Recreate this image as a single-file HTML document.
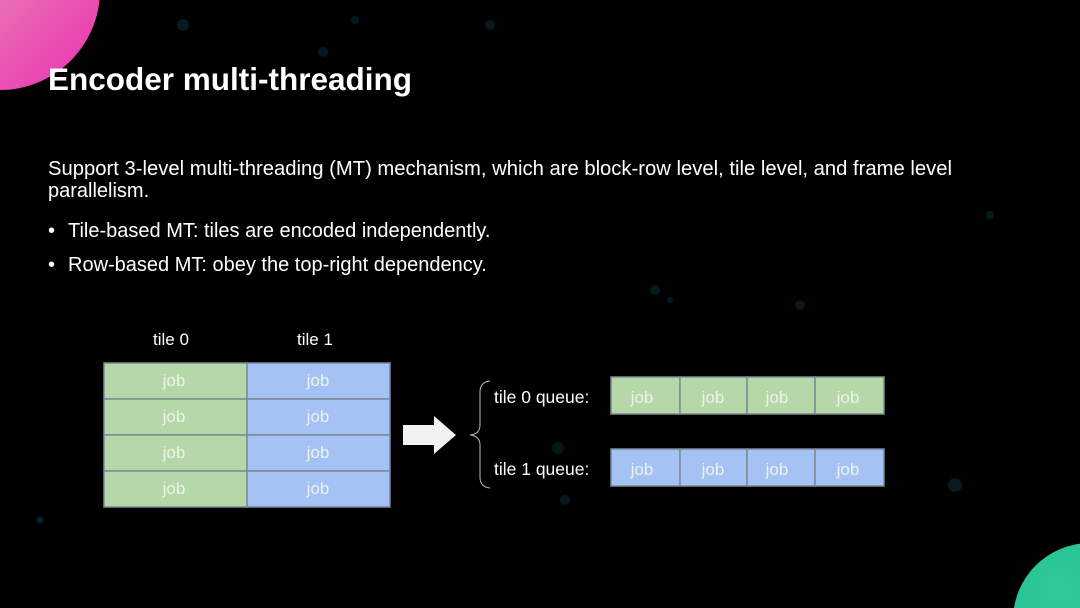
<!DOCTYPE html>
<html><head><meta charset="utf-8"><style>
html,body{margin:0;padding:0;background:#000;width:1080px;height:608px;overflow:hidden;}
svg{display:block;}
text{font-family:"Liberation Sans",Arial,sans-serif;}
</style></head><body>
<svg width="1080" height="608" viewBox="0 0 1080 608" xmlns="http://www.w3.org/2000/svg">
<defs>
<linearGradient id="pk" x1="0" y1="0" x2="1" y2="1">
<stop offset="0" stop-color="#e7b3b8"/><stop offset="1" stop-color="#ea2fb0"/>
</linearGradient>
<radialGradient id="gr" cx="0.3" cy="0.3" r="1">
<stop offset="0" stop-color="#2fc99a"/><stop offset="1" stop-color="#18b58c"/>
</radialGradient>
</defs>
<rect width="1080" height="608" fill="#000"/>
<g fill="#0d2a33" opacity="0.6">
<circle cx="183" cy="25" r="6"/><circle cx="355" cy="20" r="4"/><circle cx="323" cy="52" r="5"/>
<circle cx="655" cy="290" r="5"/><circle cx="670" cy="300" r="3"/><circle cx="558" cy="448" r="6"/>
<circle cx="800" cy="305" r="5"/><circle cx="955" cy="485" r="7"/><circle cx="40" cy="520" r="4"/>
<circle cx="490" cy="25" r="5"/><circle cx="990" cy="215" r="4"/><circle cx="565" cy="500" r="5"/>
</g>
<circle cx="0" cy="-10" r="100" fill="url(#pk)"/>
<circle cx="1090" cy="620" r="77" fill="url(#gr)"/>
<text x="48" y="90" font-size="31.5" font-weight="bold" fill="#fff">Encoder multi-threading</text>
<g font-size="20" fill="#fff">
<text x="48" y="175" textLength="904" lengthAdjust="spacingAndGlyphs">Support 3-level multi-threading (MT) mechanism, which are block-row level, tile level, and frame level</text>
<text x="48" y="197">parallelism.</text>
<text x="48" y="237">•</text><text x="68" y="237">Tile-based MT: tiles are encoded independently.</text>
<text x="48" y="271">•</text><text x="68" y="271">Row-based MT: obey the top-right dependency.</text>
</g>
<g font-size="17" fill="#fff" text-anchor="middle">
<text x="171" y="345">tile 0</text><text x="315" y="345">tile 1</text>
</g>
<g stroke="#7a8a94" stroke-width="1.5">
<rect x="104" y="363" width="143" height="36" fill="#b6d7a8"/>
<rect x="104" y="399" width="143" height="36" fill="#b6d7a8"/>
<rect x="104" y="435" width="143" height="36" fill="#b6d7a8"/>
<rect x="104" y="471" width="143" height="36" fill="#b6d7a8"/>
<rect x="247" y="363" width="143" height="36" fill="#a4c2f4"/>
<rect x="247" y="399" width="143" height="36" fill="#a4c2f4"/>
<rect x="247" y="435" width="143" height="36" fill="#a4c2f4"/>
<rect x="247" y="471" width="143" height="36" fill="#a4c2f4"/>
<rect x="611" y="377" width="69" height="37" fill="#b6d7a8"/>
<rect x="680" y="377" width="67" height="37" fill="#b6d7a8"/>
<rect x="747" y="377" width="68" height="37" fill="#b6d7a8"/>
<rect x="815" y="377" width="69" height="37" fill="#b6d7a8"/>
<rect x="611" y="449" width="69" height="37" fill="#a4c2f4"/>
<rect x="680" y="449" width="67" height="37" fill="#a4c2f4"/>
<rect x="747" y="449" width="68" height="37" fill="#a4c2f4"/>
<rect x="815" y="449" width="69" height="37" fill="#a4c2f4"/>
</g>
<g font-size="17" fill="#eef3ee" text-anchor="middle">
<text x="174" y="386">job</text><text x="174" y="422">job</text><text x="174" y="458">job</text><text x="174" y="494">job</text>
<text x="318" y="386">job</text><text x="318" y="422">job</text><text x="318" y="458">job</text><text x="318" y="494">job</text>
<text x="642" y="403">job</text><text x="713" y="403">job</text><text x="777" y="403">job</text><text x="848" y="403">job</text>
<text x="642" y="475">job</text><text x="713" y="475">job</text><text x="777" y="475">job</text><text x="848" y="475">job</text>
</g>
<polygon points="403,425 434,425 434,416 456,435 434,454 434,445 403,445" fill="#f2f2f2"/>
<path d="M490,381 Q480,382 480,392 L480,425 Q480,434 470,435 Q480,436 480,445 L480,477 Q480,487 490,488" fill="none" stroke="#bbb" stroke-width="1"/>
<g font-size="17.5" fill="#fff">
<text x="494" y="403">tile 0 queue:</text>
<text x="494" y="475">tile 1 queue:</text>
</g>
</svg>
</body></html>
